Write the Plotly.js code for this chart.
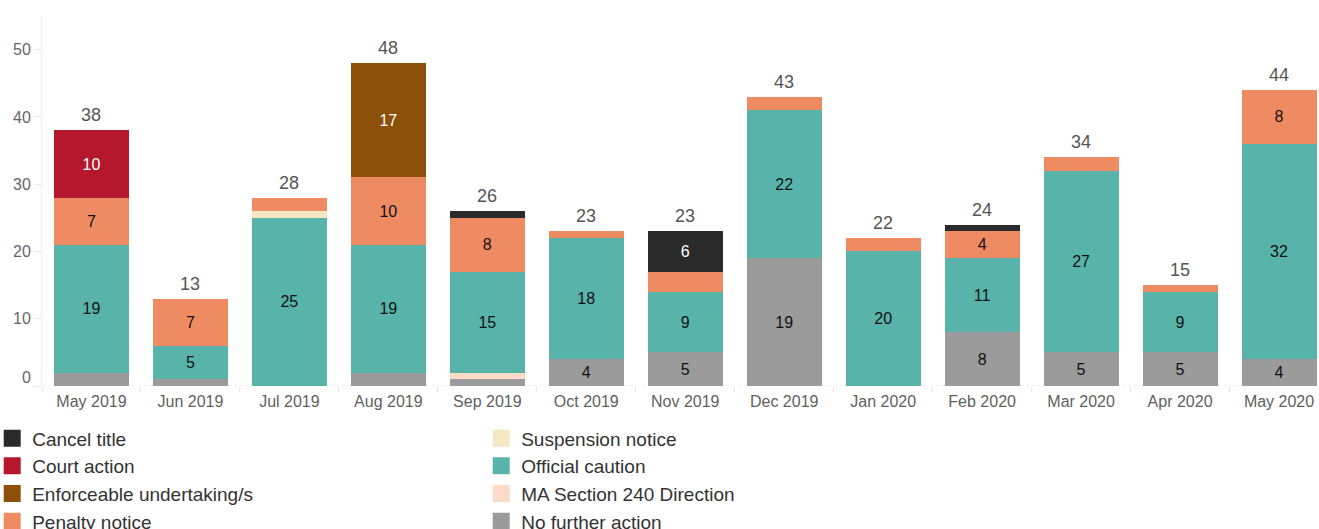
<!DOCTYPE html>
<html>
<head>
<meta charset="utf-8">
<script src="https://cdn.plot.ly/plotly-3.0.1.min.js"></script>
<style>
  html, body { margin: 0; padding: 0; background: #ffffff; }
  #chart { width: 1319px; height: 529px; }
</style>
</head>
<body>
<div id="chart"></div>
<script>
// Categories (months)
const months = ["May 2019", "Jun 2019", "Jul 2019", "Aug 2019", "Sep 2019", "Oct 2019", "Nov 2019",
                "Dec 2019", "Jan 2020", "Feb 2020", "Mar 2020", "Apr 2020", "May 2020"];

// Series values (bottom of stack first)
const noFurtherAction   = [2, 1, 0, 2, 1, 4, 5, 19, 0, 8, 5, 5, 4];
const maSection240      = [0, 0, 0, 0, 1, 0, 0, 0, 0, 0, 0, 0, 0];
const officialCaution   = [19, 5, 25, 19, 15, 18, 9, 22, 20, 11, 27, 9, 32];
const suspensionNotice  = [0, 0, 1, 0, 0, 0, 0, 0, 0, 0, 0, 0, 0];
const penaltyNotice     = [7, 7, 2, 10, 8, 1, 3, 2, 2, 4, 2, 1, 8];
const courtAction       = [10, 0, 0, 0, 0, 0, 0, 0, 0, 0, 0, 0, 0];
const enforceableUndertaking = [0, 0, 0, 17, 0, 0, 0, 0, 0, 0, 0, 0, 0];
const cancelTitle       = [0, 0, 0, 0, 1, 0, 6, 0, 0, 1, 0, 0, 0];

const yTickVals = [0, 10, 20, 30, 40, 50];
const yTickText = ["", "10", "20", "30", "40", "50"];

const FONT = "Arial, 'Liberation Sans', sans-serif";

const seriesDefs = [
  { name: "No further action",          values: noFurtherAction,        color: "#9b9b9b", text: "#111111", rank: 8 },
  { name: "MA Section 240 Direction",   values: maSection240,           color: "#fcdcc8", text: "#111111", rank: 6 },
  { name: "Official caution",           values: officialCaution,        color: "#58b4aa", text: "#111111", rank: 4 },
  { name: "Suspension notice",          values: suspensionNotice,       color: "#f5e7c4", text: "#111111", rank: 2 },
  { name: "Penalty notice",             values: penaltyNotice,          color: "#ef8b63", text: "#111111", rank: 7 },
  { name: "Court action",               values: courtAction,            color: "#b5172c", text: "#ffffff", rank: 3 },
  { name: "Enforceable undertaking/s",  values: enforceableUndertaking, color: "#8c5008", text: "#ffffff", rank: 5 },
  { name: "Cancel title",               values: cancelTitle,            color: "#2a2a2a", text: "#ffffff", rank: 1 }
];

// Stacked bars
const traces = seriesDefs.map(s => ({
  type: "bar",
  name: s.name,
  x: months,
  y: s.values.map(v => v === 0 ? null : v),
  text: s.values.map(v => v >= 4 ? String(v) : ""),
  textposition: "inside",
  insidetextanchor: "middle",
  textangle: 0,
  constraintext: "none",
  textfont: { family: FONT, size: 16, color: s.text },
  marker: { color: s.color, line: { width: 0 } },
  showlegend: false,
  hoverinfo: "skip"
}));

// Legend entries (same series, larger square swatches, no data drawn)
seriesDefs.forEach(s => {
  traces.push({
    type: "bar",
    name: s.name,
    x: months,
    y: months.map(() => null),
    marker: { color: s.color, line: { width: 5, color: s.color } },
    legendrank: s.rank,
    showlegend: true,
    hoverinfo: "skip"
  });
});

// Totals above bars
const totals = months.map((m, i) => seriesDefs.reduce((acc, s) => acc + s.values[i], 0));
const totalAnnotations = months.map((m, i) => ({
  x: m, y: totals[i], xref: "x", yref: "y",
  text: String(totals[i]),
  xanchor: "center", yanchor: "bottom", yshift: 3,
  showarrow: false,
  font: { family: FONT, size: 18, color: "#555555" }
}));

const layout = {
  width: 1319,
  height: 529,
  margin: { l: 42, r: 0, t: 16, b: 143, autoexpand: false },
  paper_bgcolor: "#ffffff",
  plot_bgcolor: "#ffffff",
  barmode: "stack",
  bargap: 0.242,
  font: { family: FONT, color: "#555555" },
  showlegend: true,
  legend: {
    orientation: "h",
    x: -0.039,
    xanchor: "left",
    y: -0.09,
    yanchor: "top",
    traceorder: "normal",
    entrywidth: 444,
    font: { family: FONT, size: 19, color: "#333333" },
    itemclick: false,
    itemdoubleclick: false
  },
  xaxis: {
    type: "category",
    range: [-0.5, 12.404],
    tickson: "boundaries",
    ticks: "outside",
    ticklen: 5,
    tickcolor: "#e6e6e6",
    ticklabelstandoff: 4,
    showline: false,
    showgrid: false,
    zeroline: false,
    tickfont: { family: FONT, size: 16, color: "#5f5f5f" },
    fixedrange: true
  },
  yaxis: {
    range: [0, 55],
    tickvals: yTickVals,
    ticktext: yTickText,
    ticks: "outside",
    ticklen: 7,
    tickcolor: "#ebebeb",
    showgrid: false,
    zeroline: false,
    showline: true,
    linecolor: "#f0f0f0",
    linewidth: 1,
    tickfont: { family: FONT, size: 16, color: "#666666" },
    fixedrange: true
  },
  shapes: [{
    type: "line", xref: "paper", yref: "y",
    x0: 0, x1: 1, y0: 0, y1: 0,
    line: { color: "#dddddd", width: 1, dash: "dot" },
    layer: "below"
  }],
  annotations: totalAnnotations.concat([{
    text: "0", xref: "paper", yref: "y", x: 0, y: 0,
    xanchor: "right", yanchor: "middle", xshift: -9, yshift: 9,
    showarrow: false,
    font: { family: FONT, size: 16, color: "#666666" }
  }])
};

Plotly.newPlot("chart", traces, layout, { displayModeBar: false, staticPlot: true });
</script>
</body>
</html>
